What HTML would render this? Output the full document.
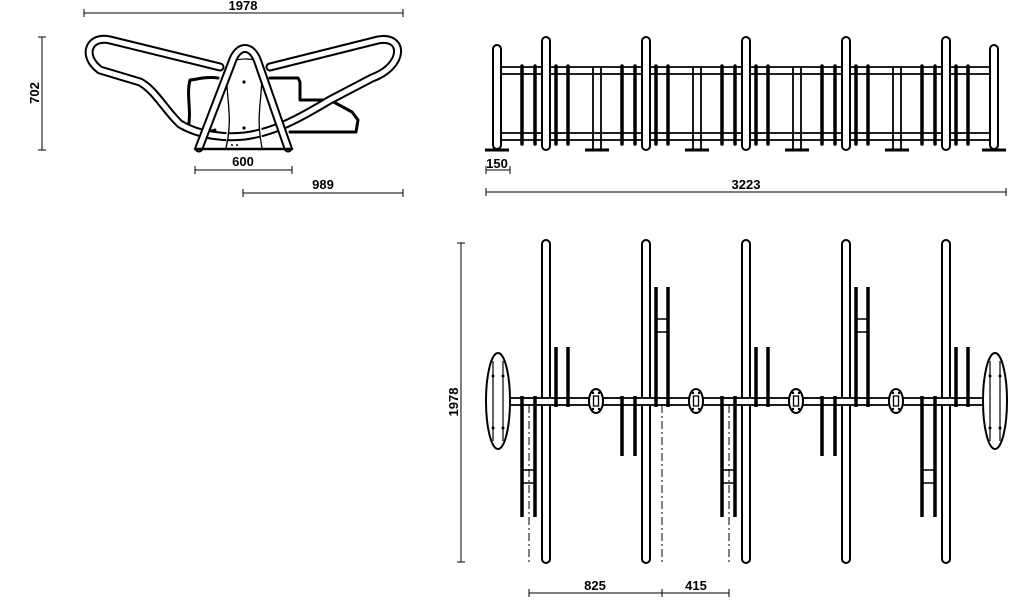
<!DOCTYPE html>
<html><head><meta charset="utf-8"><style>
html,body{margin:0;padding:0;background:#fff;width:1024px;height:603px;overflow:hidden}
text{font-family:"Liberation Sans",Arial,sans-serif;font-weight:bold;font-size:13px;fill:#000}
</style></head><body>
<svg width="1024" height="603" viewBox="0 0 1024 603" xmlns="http://www.w3.org/2000/svg">
<defs>
  <g id="loopP"><rect x="-4" y="240" width="8" height="323" rx="4" fill="#fff" stroke="#000" stroke-width="2"/></g>
  <g id="loopE"><rect x="-4" y="37" width="8" height="113" rx="4" fill="#fff" stroke="#000" stroke-width="2"/></g>
  <g id="smallEl"><ellipse cx="0" cy="0" rx="7" ry="12" fill="#fff" stroke="#000" stroke-width="2"/>
    <rect x="-2.5" y="-5" width="5" height="10" fill="#fff" stroke="#000" stroke-width="1.3"/>
    <circle cx="-3" cy="-8" r="1.2"/><circle cx="3" cy="-8" r="1.2"/><circle cx="-3" cy="8" r="1.2"/><circle cx="3" cy="8" r="1.2"/></g>
  <g id="bigEl"><ellipse cx="0" cy="0" rx="12" ry="48" fill="#fff" stroke="#000" stroke-width="2"/>
    <line x1="-5" y1="-40" x2="-5" y2="40" stroke="#000" stroke-width="1.2"/>
    <line x1="5" y1="-40" x2="5" y2="40" stroke="#000" stroke-width="1.2"/>
    <circle cx="-5" cy="-25" r="1.5"/><circle cx="5" cy="-25" r="1.5"/><circle cx="-5" cy="27" r="1.5"/><circle cx="5" cy="27" r="1.5"/></g>
  <g id="barsE" stroke="#000" stroke-width="3.5" stroke-linecap="round">
    <line x1="-24" y1="66" x2="-24" y2="144"/><line x1="-11" y1="66" x2="-11" y2="144"/>
    <line x1="10" y1="66" x2="10" y2="144"/><line x1="22" y1="66" x2="22" y2="144"/></g>
  <g id="feet"><line x1="-4" y1="67" x2="-4" y2="149" stroke="#000" stroke-width="1.8"/><line x1="4" y1="67" x2="4" y2="149" stroke="#000" stroke-width="1.8"/><line x1="-12" y1="150" x2="12" y2="150" stroke="#000" stroke-width="3"/></g>
  <g id="upShort" stroke="#000" stroke-width="3.5"><line x1="10" y1="347" x2="10" y2="407"/><line x1="22" y1="347" x2="22" y2="407"/></g>
  <g id="upLong" stroke="#000"><line x1="10" y1="287" x2="10" y2="407" stroke-width="3.5"/><line x1="22" y1="287" x2="22" y2="407" stroke-width="3.5"/><line x1="10" y1="319" x2="22" y2="319" stroke-width="1.5"/><line x1="10" y1="332" x2="22" y2="332" stroke-width="1.5"/></g>
  <g id="downLong" stroke="#000"><line x1="-24" y1="396" x2="-24" y2="517" stroke-width="3.5"/><line x1="-11" y1="396" x2="-11" y2="517" stroke-width="3.5"/><line x1="-24" y1="470" x2="-11" y2="470" stroke-width="1.5"/><line x1="-24" y1="483" x2="-11" y2="483" stroke-width="1.5"/></g>
  <g id="downShort" stroke="#000" stroke-width="3.5"><line x1="-24" y1="396" x2="-24" y2="456"/><line x1="-11" y1="396" x2="-11" y2="456"/></g>
  <marker id="tk" markerWidth="6" markerHeight="8" refX="3" refY="4" orient="auto"><line x1="3" y1="0" x2="3" y2="8" stroke="#000" stroke-width="1"/></marker>
</defs>

<g stroke="#000" stroke-width="1" fill="none">
  <line x1="84" y1="13" x2="403" y2="13" marker-start="url(#tk)" marker-end="url(#tk)"/>
  <line x1="42" y1="37" x2="42" y2="150" marker-start="url(#tk)" marker-end="url(#tk)"/>
  <line x1="195" y1="170" x2="292" y2="170" marker-start="url(#tk)" marker-end="url(#tk)"/>
  <line x1="243" y1="193" x2="403" y2="193" marker-start="url(#tk)" marker-end="url(#tk)"/>
  <line x1="486" y1="170" x2="510" y2="170" marker-start="url(#tk)" marker-end="url(#tk)"/>
  <line x1="486" y1="192" x2="1006" y2="192" marker-start="url(#tk)" marker-end="url(#tk)"/>
  <line x1="461" y1="243" x2="461" y2="562" marker-start="url(#tk)" marker-end="url(#tk)"/>
  <line x1="529" y1="593" x2="662" y2="593" marker-start="url(#tk)" marker-end="url(#tk)"/>
  <line x1="662" y1="593" x2="729" y2="593" marker-start="url(#tk)" marker-end="url(#tk)"/>
</g>
<text x="243" y="10" text-anchor="middle">1978</text>
<text transform="translate(39,93) rotate(-90)" text-anchor="middle">702</text>
<text x="243" y="166" text-anchor="middle">600</text>
<text x="323" y="189" text-anchor="middle">989</text>
<text x="497" y="168" text-anchor="middle">150</text>
<text x="746" y="189" text-anchor="middle">3223</text>
<text transform="translate(458,402) rotate(-90)" text-anchor="middle">1978</text>
<text x="595" y="590" text-anchor="middle">825</text>
<text x="696" y="590" text-anchor="middle">415</text>

<g fill="none" stroke-linejoin="round" stroke-linecap="round">
  <path d="M218 78 C205 76 195 80 190 80 C186 95 192 110 188 130 C195 135 205 133 215 130" stroke="#000" stroke-width="3"/>
  <path d="M270 78 L298 78 L300 82 L300 100 L330 100 L352 112 L358 120 L356 132 L290 132" stroke="#000" stroke-width="3"/>
  <path d="M220 67 L110 40 C90 35 80 55 100 70 L140 82 C155 90 165 110 180 124 C200 136 225 138 245 136 C275 132 300 118 330 100 L372 78 C405 66 405 35 378 40 L270 67" stroke="#000" stroke-width="9"/>
  <path d="M220 67 L110 40 C90 35 80 55 100 70 L140 82 C155 90 165 110 180 124 C200 136 225 138 245 136 C275 132 300 118 330 100 L372 78 C405 66 405 35 378 40 L270 67" stroke="#fff" stroke-width="5"/>
  <path d="M229 62 C222 90 235 110 226 148 M260 62 C266 90 254 110 262 148 M229 62 C240 58 252 58 260 62" stroke="#000" stroke-width="1.3" fill="#fff"/>
  <path d="M199 148 L232 62 C238 44 252 44 258 62 L288 148" stroke="#000" stroke-width="9"/>
  <path d="M199 148 L232 62 C238 44 252 44 258 62 L288 148" stroke="#fff" stroke-width="5"/>
  <line x1="195" y1="149" x2="292" y2="149" stroke="#000" stroke-width="2.5"/>
</g>
<circle cx="244" cy="82" r="1.6"/><circle cx="244" cy="128" r="1.6"/><circle cx="232" cy="145" r="1"/><circle cx="237" cy="145" r="1"/>

<g fill="none" stroke="#000" stroke-width="1.8">
  <line x1="500" y1="67" x2="992" y2="67"/><line x1="500" y1="74" x2="992" y2="74"/>
  <line x1="500" y1="133" x2="992" y2="133"/><line x1="500" y1="140" x2="992" y2="140"/>
</g>
<use href="#barsE" x="546"/><use href="#barsE" x="646"/><use href="#barsE" x="746"/><use href="#barsE" x="846"/><use href="#barsE" x="946"/>
<use href="#feet" x="597"/><use href="#feet" x="697"/><use href="#feet" x="797"/><use href="#feet" x="897"/>
<use href="#loopE" x="546"/><use href="#loopE" x="646"/><use href="#loopE" x="746"/><use href="#loopE" x="846"/><use href="#loopE" x="946"/>
<rect x="493" y="45" width="8" height="104" rx="4" fill="#fff" stroke="#000" stroke-width="2"/>
<rect x="990" y="45" width="8" height="104" rx="4" fill="#fff" stroke="#000" stroke-width="2"/>
<line x1="485" y1="150" x2="509" y2="150" stroke="#000" stroke-width="3"/>
<line x1="982" y1="150" x2="1006" y2="150" stroke="#000" stroke-width="3"/>

<g stroke="#000" stroke-width="1" stroke-dasharray="8,3,2,3">
  <line x1="529" y1="405" x2="529" y2="565"/><line x1="662" y1="405" x2="662" y2="565"/><line x1="729" y1="405" x2="729" y2="565"/>
</g>
<use href="#loopP" x="546"/><use href="#loopP" x="646"/><use href="#loopP" x="746"/><use href="#loopP" x="846"/><use href="#loopP" x="946"/>
<rect x="502" y="398" width="490" height="7" fill="#fff" stroke="#000" stroke-width="1.8"/>
<use href="#upShort" x="546"/><use href="#downLong" x="546"/>
<use href="#upLong" x="646"/><use href="#downShort" x="646"/>
<use href="#upShort" x="746"/><use href="#downLong" x="746"/>
<use href="#upLong" x="846"/><use href="#downShort" x="846"/>
<use href="#upShort" x="946"/><use href="#downLong" x="946"/>
<use href="#smallEl" x="596" y="401"/><use href="#smallEl" x="696" y="401"/><use href="#smallEl" x="796" y="401"/><use href="#smallEl" x="896" y="401"/>
<use href="#bigEl" x="498" y="401"/><use href="#bigEl" x="995" y="401"/>
</svg>
</body></html>
